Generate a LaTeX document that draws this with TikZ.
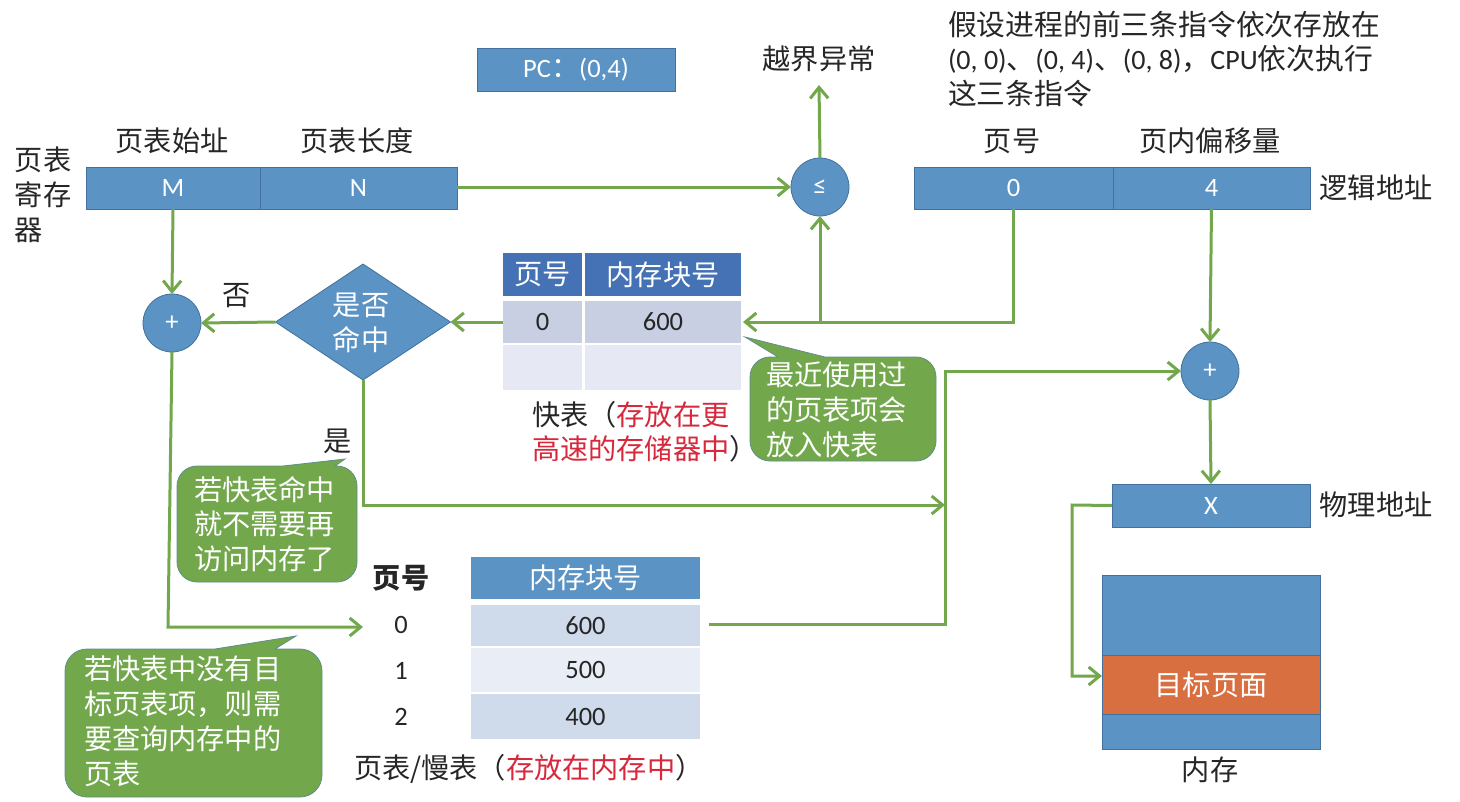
\documentclass[tikz,border=0pt]{standalone}
\usepackage{fontspec}
\setmainfont{Noto Sans CJK SC}
\newfontfamily\lat{Carlito}
\usetikzlibrary{shapes.geometric,arrows.meta,positioning}
\definecolor{boxblue}{HTML}{5B93C5}
\definecolor{boxline}{HTML}{41719C}
\definecolor{hdrblue}{HTML}{4472B4}
\definecolor{flink}{HTML}{72A84B}
\definecolor{fastA}{HTML}{C9CFE3}
\definecolor{fastB}{HTML}{E6E9F3}
\definecolor{slowA}{HTML}{CFDAEB}
\definecolor{slowB}{HTML}{E9EEF6}
\definecolor{calloutgreen}{HTML}{72A84B}
\definecolor{calloutline}{HTML}{5F8F8A}
\definecolor{orangebox}{HTML}{D86F40}
\definecolor{redtext}{HTML}{D8283C}
\definecolor{inktext}{HTML}{262626}
\newcommand{\zhsize}{\fontsize{28.2}{34.8}\selectfont}
\newcommand{\latsize}{\fontsize{26.5}{30}\selectfont\lat}
\newcommand{\latnote}{\fontsize{28}{30}\selectfont\lat}
% \cellbox{name}{x1}{y1}{x2}{y2}{style}{text}
\newcommand{\cellbox}[7]{%
  \pgfmathsetmacro{\cx}{(#2+#4)/2}\pgfmathsetmacro{\cy}{(#3+#5)/2}%
  \pgfmathsetmacro{\cw}{#4-#2}\pgfmathsetmacro{\ch}{#5-#3}%
  \node[#6,minimum width=\cw pt,minimum height=\ch pt] (#1) at (\cx,\cy) {#7};}
\tikzset{
  x=1pt,y=-1pt,
  every node/.style={inner sep=0pt,outer sep=0pt,text=inktext,font=\zhsize},
  bluebox/.style={rectangle,fill=boxblue,draw=boxline,line width=0.8pt,text=white},
  hdrfast/.style={rectangle,fill=hdrblue,text=white,font=\zhsize},
  hdrslow/.style={rectangle,fill=boxblue,text=white,font=\zhsize},
  fastrowa/.style={rectangle,fill=fastA},
  fastrowb/.style={rectangle,fill=fastB},
  slowrowa/.style={rectangle,fill=slowA},
  slowrowb/.style={rectangle,fill=slowB},
  opcircle/.style={circle,fill=boxblue,draw=boxline,line width=0.8pt,minimum size=58pt,text=white},
  decision/.style={diamond,fill=boxblue,draw=boxline,line width=0.8pt,text=white,minimum width=175pt,minimum height=116pt,aspect=1.5},
  label/.style={align=left,anchor=west},
  link/.style={draw=flink,line width=3pt},
  arrowlink/.style={link,-{Straight Barb[length=11pt,width=18pt,line width=3pt]}},
  speech/.style={fill=calloutgreen,draw=calloutline,line width=0.8pt},
  speechtext/.style={align=left,anchor=north west,text=white,font=\zhsize},
}
\begin{document}
\begin{tikzpicture}
\useasboundingbox (0,0) rectangle (1460,801);
\fill[white] (0,0) rectangle (1460,801);

% PC
\cellbox{pc}{477}{48}{675}{91}{bluebox}{{\latsize PC}{\normalfont：}{\latsize (0,4)}}

% register
\cellbox{regM}{86}{167}{260}{209}{bluebox}{\latsize M}
\cellbox{regN}{260}{167}{457}{209}{bluebox}{\latsize N}
\node (lblM) at (172,141) {页表始址};
\node (lblN) at (357,141) {页表长度};
\node[label,anchor=north west] (lblreg) at (15,147) {页表\\寄存\\器};

% logical address
\cellbox{logP}{914}{167}{1113}{209}{bluebox}{\latsize 0}
\cellbox{logD}{1113}{167}{1310}{209}{bluebox}{\latsize 4}
\node (lblP) at (1012,141) {页号};
\node (lblD) at (1210,141) {页内偏移量};
\node (lbllog) at (1376,188) {逻辑地址};

% texts top
\node (oob) at (819,59) {越界异常};
\node[label,anchor=north west,font=\fontsize{28.8}{34.6}\selectfont] (note) at (948,11) {假设进程的前三条指令依次存放在\\{\latnote (0, 0)}、{\latnote (0, 4)}、{\latnote (0, 8)}，{\latnote CPU}依次执行\\这三条指令};

% operators
\node[opcircle] (cmp) at (820,187) {\latsize ≤};
\node[opcircle] (addL) at (172,323) {\latsize +};
\node[opcircle] (addR) at (1210,371) {\latsize +};
\node[decision] (hit) at (363,322) {};
\node[align=center,text=white] (hittext) at (361,323) {是否\\命中};
\node (no) at (237,296) {否};
\node (yes) at (338,441) {是};

% fast table
\cellbox{fh1}{503}{253}{582}{296}{hdrfast}{页号}
\cellbox{fh2}{585}{253}{741}{296}{hdrfast}{内存块号}
\cellbox{fa1}{503}{301}{582}{343}{fastrowa}{\latsize 0}
\cellbox{fa2}{585}{301}{741}{343}{fastrowa}{\latsize 600}
\cellbox{fb1}{503}{345}{582}{390}{fastrowb}{}
\cellbox{fb2}{585}{345}{741}{390}{fastrowb}{}
\node[label,anchor=north west] (fastcap) at (532,401) {快表（\textcolor{redtext}{存放在更}\\\textcolor{redtext}{高速的存储器中}）};

% slow table
\node[font=\zhsize\bfseries] (sh0) at (401,578) {页号};
\cellbox{sh}{471}{557}{700}{599}{hdrslow}{内存块号}
\node (s0) at (401,625) {\latsize 0};
\node (s1) at (401,671) {\latsize 1};
\node (s2) at (401,717) {\latsize 2};
\cellbox{sa}{471}{605}{700}{646}{slowrowa}{\latsize 600}
\cellbox{sb}{471}{648}{700}{692}{slowrowb}{\latsize 500}
\cellbox{sc}{471}{694}{700}{739}{slowrowa}{\latsize 400}
\node[anchor=west] (slowcap) at (354,769) {页表/慢表（\textcolor{redtext}{存放在内存中}）};

% physical address and memory
\cellbox{phys}{1112}{484}{1310}{527}{bluebox}{\latsize X}
\node (lblphys) at (1376,505) {物理地址};
\cellbox{mem}{1102}{575}{1320}{749}{bluebox}{}
\cellbox{page}{1102}{655}{1320}{714}{rectangle,fill=orangebox,draw=boxline,line width=0.8pt,text=white}{目标页面}
\node (lblmem) at (1210,770) {内存};

% callouts
\path[speech] (825,357) [rounded corners=20pt] -- (936,357) -- (936,461) -- (750,461) -- (750,357) [sharp corners] -- (778,357) -- (745,337) -- cycle;
\node[speechtext] (c1) at (766,362) {最近使用过\\的页表项会\\放入快表};
\path[speech] (283,466) [sharp corners] -- (345,459) -- (335,466) [rounded corners=20pt] -- (357,466) -- (357,582) -- (177,582) -- (177,466) [sharp corners] -- cycle;
\node[speechtext] (c2) at (194,476) {若快表命中\\就不需要再\\访问内存了};
\path[speech] (215,649) [sharp corners] -- (296,636) -- (275,649) [rounded corners=22pt] -- (322,649) -- (322,797) -- (65,797) -- (65,649) [sharp corners] -- cycle;
\node[speechtext] (c3) at (84,656) {若快表中没有目\\标页表项，则需\\要查询内存中的\\页表};

% free ends of connectors
\coordinate (tipOob) at (819,85);
\coordinate (tipFast) at (743,322);
\coordinate (branch) at (cmp.south |- fa2.east);
\coordinate (tipYes) at (945,505);
\coordinate (tipSlow) at (363,627);
\coordinate (cornerSlow) at (168,627);
\coordinate (startSlow) at (709,624);
\coordinate (busX) at (945,624);
\coordinate (physBend) at (1072,505);
\coordinate (pageBend) at (1072,676);

% connectors
\draw[arrowlink] (regN.east |- cmp.west) -- (cmp.west);
\draw[arrowlink] (cmp.north) -- (tipOob);
\draw[arrowlink] (logP.south) -- (tipFast -| logP.south) -- (tipFast);
\draw[arrowlink] (branch) -- (cmp.south);
\draw[arrowlink] (fa1.west) -- (hit.east);
\draw[arrowlink] (hit.west) -- (addL.east);
\draw[arrowlink] (regM.south) -- (addL.north);
\draw[arrowlink] (addL.south) -- (cornerSlow) -- (tipSlow);
\draw[arrowlink] (hit.south) -- (hit.south |- tipYes) -- (tipYes);
\draw[arrowlink] (startSlow) -- (busX) -- (busX |- addR.west) -- (addR.west);
\draw[arrowlink] (logD.south) -- (addR.north);
\draw[arrowlink] (addR.south) -- (phys.north);
\draw[arrowlink] (phys.west) -- (physBend) -- (pageBend) -- (pageBend -| page.west);
\end{tikzpicture}
\end{document}
